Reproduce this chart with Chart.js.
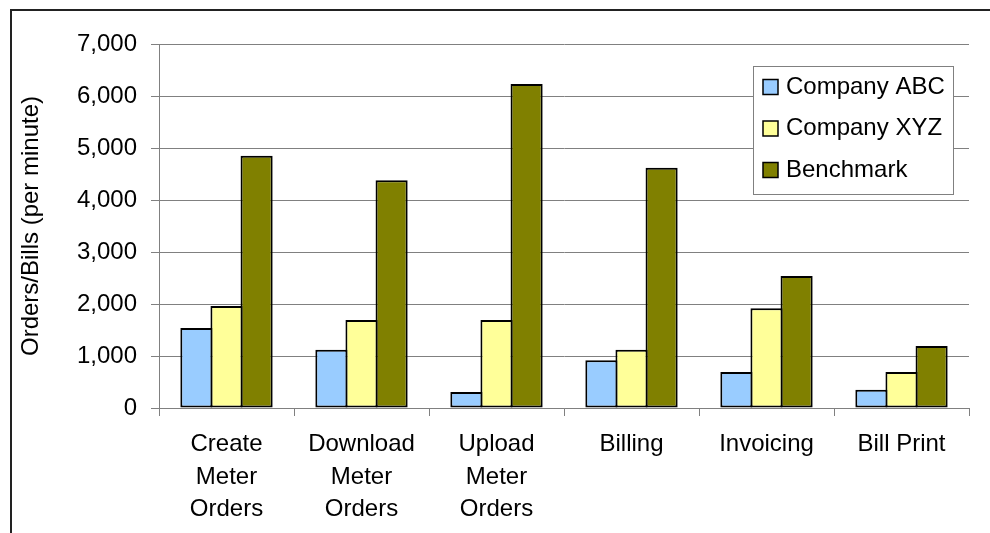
<!DOCTYPE html>
<html>
<head>
<meta charset="utf-8">
<script src="https://cdn.jsdelivr.net/npm/chart.js@4/dist/chart.umd.min.js"></script>
<style>
  html, body { margin: 0; padding: 0; background: #fff; overflow: hidden; }
  #wrap { position: relative; width: 990px; height: 533px; }
  #frame { position: absolute; left: 10px; top: 9px; width: 2000px; height: 2000px; border: 2px solid #222; box-sizing: border-box; }
  canvas { position: absolute; left: 0; top: 0; }
</style>
</head>
<body>
<div id="wrap">
  <div id="frame"></div>
  <canvas id="c" width="990" height="533"></canvas>
</div>
<script>
const categories = [["Create", "Meter", "Orders"], ["Download", "Meter", "Orders"], ["Upload", "Meter", "Orders"], "Billing", "Invoicing", "Bill Print"];
const seriesNames = ["Company ABC", "Company XYZ", "Benchmark"];
const companyABC = [1540, 1120, 310, 920, 690, 350];
const companyXYZ = [1960, 1690, 1690, 1120, 1920, 690];
const benchmark = [4850, 4380, 6230, 4620, 2540, 1190];
const yTicks = [0, 1000, 2000, 3000, 4000, 5000, 6000, 7000];
const yTitle = "Orders/Bills (per minute)";

const colors = ["#99CCFF", "#FFFF99", "#808000"];
const FONT = "'Liberation Sans', Arial, sans-serif";

const boxLegend = {
  id: 'boxLegend',
  afterDraw(chart) {
    const ctx = chart.ctx;
    const a = chart.chartArea;
    const left = a.right - 216, top = a.top + 22, w = 200, h = 128;
    ctx.save();
    ctx.fillStyle = '#fff';
    ctx.fillRect(left, top, w, h);
    ctx.strokeStyle = '#808080';
    ctx.lineWidth = 1;
    ctx.strokeRect(left + 0.5, top + 0.5, w, h);
    ctx.font = '24px ' + FONT;
    ctx.textBaseline = 'middle';
    ctx.textAlign = 'left';
    chart.data.datasets.forEach((ds, i) => {
      const cy = top + 21 + i * 41.5;
      ctx.fillStyle = ds.backgroundColor;
      ctx.fillRect(left + 10, cy - 7.5, 15, 15);
      ctx.strokeStyle = '#000';
      ctx.lineWidth = 1.5;
      ctx.strokeRect(left + 10, cy - 7.5, 15, 15);
      ctx.fillStyle = '#000';
      ctx.fillText(ds.label, left + 33, cy);
    });
    ctx.restore();
  }
};

const mk = (label, data, i) => ({
  label, data,
  backgroundColor: colors[i],
  borderColor: '#000',
  borderWidth: 2,
  borderSkipped: false,
  categoryPercentage: 0.669,
  barPercentage: 1.067
});

new Chart(document.getElementById('c'), {
  type: 'bar',
  data: {
    labels: categories,
    datasets: [mk(seriesNames[0], companyABC, 0), mk(seriesNames[1], companyXYZ, 1), mk(seriesNames[2], benchmark, 2)]
  },
  options: {
    responsive: false,
    animation: false,
    devicePixelRatio: 1,
    layout: { padding: { left: 12, right: 21, top: 44, bottom: 0 } },
    plugins: { legend: { display: false }, tooltip: { enabled: false } },
    scales: {
      x: {
        offset: true,
        grid: { display: true, drawOnChartArea: false, drawTicks: true, tickLength: 8, color: '#808080', offset: true },
        border: { display: true, color: '#808080', width: 1 },
        ticks: { color: '#000', font: { family: FONT, size: 24, lineHeight: 1.36 }, padding: 12, maxRotation: 0, autoSkip: false },
        afterFit(s) { s.height = 125; }
      },
      y: {
        min: 0, max: 7000,
        afterBuildTicks(s) { s.ticks = yTicks.map(v => ({ value: v })); },
        grid: { color: '#808080', lineWidth: 1, tickLength: 8, drawTicks: true },
        border: { display: true, color: '#808080', width: 1 },
        ticks: {
          color: '#000', font: { family: FONT, size: 24 }, padding: 14,
          callback: v => Number(v).toLocaleString('en-US')
        },
        title: { display: true, text: yTitle, color: '#000', font: { family: FONT, size: 24 }, padding: { top: 5, bottom: 0 } },
        afterFit(s) { s.width = 147; }
      }
    }
  },
  plugins: [boxLegend]
});
</script>
</body>
</html>
